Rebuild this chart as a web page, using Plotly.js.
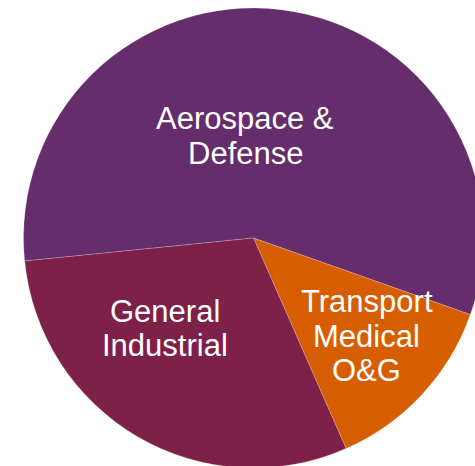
<!DOCTYPE html>
<html>
<head>
<meta charset="utf-8">
<script src="https://cdn.plot.ly/plotly-3.0.1.min.js"></script>
<style>
html, body { margin: 0; padding: 0; overflow: hidden; background: #fff; }
#chart { width: 507px; height: 468px; }
</style>
</head>
<body>
<div id="chart"></div>
<script>
// Data
const categories = ["Aerospace & Defense", "Transport Medical O&G", "General Industrial"];
const labelLines = [["Aerospace &", "Defense"], ["Transport", "Medical", "O&G"], ["General", "Industrial"]];
const shares = [57, 13, 30];
const colors = ["#652D6C", "#D65E00", "#7E2148"];

// Layout constants (pixels)
const W = 507, H = 468, T = 8, PH = 460;
// label anchor positions: [x center, y of first line mid] in pixels
const labelAnchors = [[245, 118.5], [366.5, 301.5], [164.5, 311]];
const lineStep = 34.5;

const annotations = [];
labelLines.forEach((lines, i) => {
  lines.forEach((ln, j) => {
    const px = labelAnchors[i][0];
    const py = labelAnchors[i][1] + j * lineStep;
    annotations.push({
      text: ln,
      xref: "paper", yref: "paper",
      x: px / W, y: 1 - (py - T) / PH,
      xanchor: "center", yanchor: "middle",
      showarrow: false,
      font: { family: "Liberation Sans, Arial, sans-serif", size: 31, color: "#ffffff" }
    });
  });
});

const trace = {
  type: "pie",
  labels: categories,
  values: shares,
  sort: false,
  direction: "clockwise",
  rotation: 264.26,
  marker: { colors: colors, line: { color: "rgba(255,255,255,0.35)", width: 0.6 } },
  textinfo: "none",
  hoverinfo: "label+percent",
  showlegend: false
};

const layout = {
  width: W, height: H,
  margin: { l: 0, r: 0, t: T, b: 0, pad: 0 },
  paper_bgcolor: "#ffffff",
  showlegend: false,
  annotations: annotations
};

Plotly.newPlot("chart", [trace], layout, { displayModeBar: false, staticPlot: true });
</script>
</body>
</html>
